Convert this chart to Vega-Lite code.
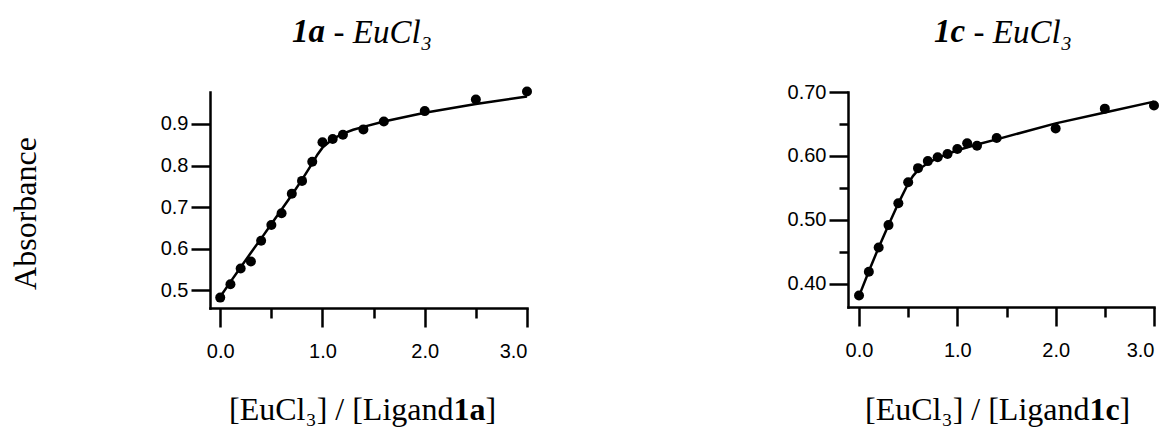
{
  "$schema": "https://vega.github.io/schema/vega-lite/v6.json",
  "background": "white",
  "padding": {"left": 10, "top": 16, "right": 5, "bottom": 5},
  "title": {"text": "Absorbance", "orient": "left", "anchor": "middle", "font": "Liberation Serif", "fontSize": 32, "fontWeight": "normal", "color": "black", "offset": 102, "baseline": "middle", "dx": 7},
  "datasets": {
    "fit1a": [
      {"ratio": 0, "absorbance": 0.484}, {"ratio": 0.1, "absorbance": 0.52}, {"ratio": 0.2, "absorbance": 0.555},
      {"ratio": 0.3, "absorbance": 0.59}, {"ratio": 0.4, "absorbance": 0.624}, {"ratio": 0.5, "absorbance": 0.659},
      {"ratio": 0.6, "absorbance": 0.694}, {"ratio": 0.7, "absorbance": 0.729}, {"ratio": 0.8, "absorbance": 0.766},
      {"ratio": 0.9, "absorbance": 0.805}, {"ratio": 0.95, "absorbance": 0.826}, {"ratio": 1.0, "absorbance": 0.843},
      {"ratio": 1.1, "absorbance": 0.864}, {"ratio": 1.2, "absorbance": 0.877}, {"ratio": 1.3, "absorbance": 0.886},
      {"ratio": 1.4, "absorbance": 0.893}, {"ratio": 1.6, "absorbance": 0.906}, {"ratio": 2.0, "absorbance": 0.927},
      {"ratio": 2.5, "absorbance": 0.948}, {"ratio": 3.0, "absorbance": 0.966}
    ],
    "pts1a": [
      {"ratio": 0, "absorbance": 0.482}, {"ratio": 0.1, "absorbance": 0.514}, {"ratio": 0.2, "absorbance": 0.552},
      {"ratio": 0.3, "absorbance": 0.569}, {"ratio": 0.4, "absorbance": 0.619}, {"ratio": 0.5, "absorbance": 0.657},
      {"ratio": 0.6, "absorbance": 0.685}, {"ratio": 0.7, "absorbance": 0.732}, {"ratio": 0.8, "absorbance": 0.763},
      {"ratio": 0.9, "absorbance": 0.809}, {"ratio": 1.0, "absorbance": 0.856}, {"ratio": 1.1, "absorbance": 0.864},
      {"ratio": 1.2, "absorbance": 0.874}, {"ratio": 1.4, "absorbance": 0.887}, {"ratio": 1.6, "absorbance": 0.906},
      {"ratio": 2.0, "absorbance": 0.931}, {"ratio": 2.5, "absorbance": 0.959}, {"ratio": 3.0, "absorbance": 0.978}
    ],
    "fit1c": [
      {"ratio": 0, "absorbance": 0.381}, {"ratio": 0.1, "absorbance": 0.42}, {"ratio": 0.2, "absorbance": 0.457},
      {"ratio": 0.3, "absorbance": 0.492}, {"ratio": 0.4, "absorbance": 0.526}, {"ratio": 0.5, "absorbance": 0.557},
      {"ratio": 0.55, "absorbance": 0.569}, {"ratio": 0.6, "absorbance": 0.578}, {"ratio": 0.7, "absorbance": 0.589},
      {"ratio": 0.8, "absorbance": 0.597}, {"ratio": 0.9, "absorbance": 0.603}, {"ratio": 1.0, "absorbance": 0.609},
      {"ratio": 1.2, "absorbance": 0.618}, {"ratio": 1.4, "absorbance": 0.626}, {"ratio": 2.0, "absorbance": 0.651},
      {"ratio": 2.5, "absorbance": 0.668}, {"ratio": 3.0, "absorbance": 0.685}
    ],
    "pts1c": [
      {"ratio": 0, "absorbance": 0.382}, {"ratio": 0.1, "absorbance": 0.419}, {"ratio": 0.2, "absorbance": 0.457},
      {"ratio": 0.3, "absorbance": 0.492}, {"ratio": 0.4, "absorbance": 0.526}, {"ratio": 0.5, "absorbance": 0.559},
      {"ratio": 0.6, "absorbance": 0.581}, {"ratio": 0.7, "absorbance": 0.592}, {"ratio": 0.8, "absorbance": 0.598},
      {"ratio": 0.9, "absorbance": 0.603}, {"ratio": 1.0, "absorbance": 0.611}, {"ratio": 1.1, "absorbance": 0.62},
      {"ratio": 1.2, "absorbance": 0.616}, {"ratio": 1.4, "absorbance": 0.628}, {"ratio": 2.0, "absorbance": 0.643},
      {"ratio": 2.5, "absorbance": 0.674}, {"ratio": 3.0, "absorbance": 0.679}
    ]
  },
  "spacing": 255,
  "hconcat": [
    {
      "width": 317,
      "height": 216,
      "title": {"text": "1a", "anchor": "start", "frame": "group", "dx": 82, "offset": -59, "baseline": "alphabetic", "font": "Liberation Serif", "fontSize": 33, "fontStyle": "italic", "fontWeight": "bold", "color": "black"},
      "layer": [
        {
          "data": {"name": "fit1a"},
          "mark": {"type": "line", "color": "black", "strokeWidth": 2.5},
          "encoding": {
            "x": {"field": "ratio", "type": "quantitative", "scale": {"domain": [-0.1, 3], "nice": false, "zero": false},
              "axis": {"orient": "bottom", "values": [0, 0.5, 1, 1.5, 2, 2.5, 3], "labelExpr": "datum.value % 1 === 0 ? format(datum.value, '.1f') : ''",
                "tickSize": {"condition": {"test": "datum.value % 1 === 0", "value": 19}, "value": 10}, "labelPadding": 14,
                "title": "[EuCl₃] / [Ligand", "titleX": 243, "titleY": 111, "titleAlign": "right", "titleBaseline": "alphabetic", "titleAngle": 0}},
            "y": {"field": "absorbance", "type": "quantitative", "scale": {"domain": [0.457, 0.977], "nice": false, "zero": false},
              "axis": {"orient": "left", "values": [0.5, 0.6, 0.7, 0.8, 0.9], "format": ".1f", "tickSize": 19, "labelPadding": 3,
                "title": "]", "titleX": 275, "titleY": 327, "titleAngle": 0, "titleAlign": "left", "titleBaseline": "alphabetic"}}
          }
        },
        {
          "data": {"name": "pts1a"},
          "mark": {"type": "circle", "color": "black", "size": 100, "opacity": 1},
          "encoding": {
            "x": {"field": "ratio", "type": "quantitative",
              "axis": {"orient": "top", "domain": false, "ticks": false, "labels": false, "title": "- EuCl₃", "titleX": 123, "titleY": -50, "titleAngle": 0, "titleAlign": "left", "titleBaseline": "alphabetic", "titleFontStyle": "italic", "titleFontSize": 33}},
            "y": {"field": "absorbance", "type": "quantitative",
              "axis": {"orient": "right", "domain": false, "ticks": false, "labels": false, "title": "1a", "titleX": -74, "titleY": 327, "titleAngle": 0, "titleAlign": "left", "titleBaseline": "alphabetic", "titleFontWeight": "bold"}}
          }
        }
      ],
      "resolve": {"axis": {"x": "independent", "y": "independent"}}
    },
    {
      "width": 306,
      "height": 215,
      "title": {"text": "1c", "anchor": "start", "frame": "group", "dx": 86, "offset": -59, "baseline": "alphabetic", "font": "Liberation Serif", "fontSize": 33, "fontStyle": "italic", "fontWeight": "bold", "color": "black"},
      "layer": [
        {
          "data": {"name": "fit1c"},
          "mark": {"type": "line", "color": "black", "strokeWidth": 2.5},
          "encoding": {
            "x": {"field": "ratio", "type": "quantitative", "scale": {"domain": [-0.112, 3], "nice": false, "zero": false},
              "axis": {"orient": "bottom", "values": [0, 0.5, 1, 1.5, 2, 2.5, 3], "labelExpr": "datum.value % 1 === 0 ? format(datum.value, '.1f') : ''",
                "tickSize": {"condition": {"test": "datum.value % 1 === 0", "value": 19}, "value": 10}, "labelPadding": 14,
                "title": "[EuCl₃] / [Ligand", "titleX": 241, "titleY": 112, "titleAlign": "right", "titleBaseline": "alphabetic", "titleAngle": 0}},
            "y": {"field": "absorbance", "type": "quantitative", "scale": {"domain": [0.364, 0.7], "nice": false, "zero": false},
              "axis": {"orient": "left", "values": [0.4, 0.45, 0.5, 0.55, 0.6, 0.65, 0.7],
                "labelExpr": "round(datum.value * 20) % 2 === 0 ? format(datum.value, '.2f') : ''",
                "tickSize": {"condition": {"test": "round(datum.value * 20) % 2 === 0", "value": 19}, "value": 9}, "labelPadding": 3,
                "title": "]", "titleX": 271, "titleY": 327, "titleAngle": 0, "titleAlign": "left", "titleBaseline": "alphabetic"}}
          }
        },
        {
          "data": {"name": "pts1c"},
          "mark": {"type": "circle", "color": "black", "size": 100, "opacity": 1},
          "encoding": {
            "x": {"field": "ratio", "type": "quantitative",
              "axis": {"orient": "top", "domain": false, "ticks": false, "labels": false, "title": "- EuCl₃", "titleX": 125, "titleY": -50, "titleAngle": 0, "titleAlign": "left", "titleBaseline": "alphabetic", "titleFontStyle": "italic", "titleFontSize": 33}},
            "y": {"field": "absorbance", "type": "quantitative",
              "axis": {"orient": "right", "domain": false, "ticks": false, "labels": false, "title": "1c", "titleX": -65, "titleY": 327, "titleAngle": 0, "titleAlign": "left", "titleBaseline": "alphabetic", "titleFontWeight": "bold"}}
          }
        }
      ],
      "resolve": {"axis": {"x": "independent", "y": "independent"}}
    }
  ],
  "config": {
    "view": {"stroke": null},
    "axis": {
      "grid": false,
      "domainColor": "black", "domainWidth": 2.5, "domainCap": "square",
      "tickColor": "black", "tickWidth": 2.5,
      "labelFont": "Liberation Sans", "labelFontSize": 20, "labelColor": "black",
      "titleFont": "Liberation Serif", "titleFontSize": 32, "titleFontWeight": "normal", "titleColor": "black"
    }
  }
}
